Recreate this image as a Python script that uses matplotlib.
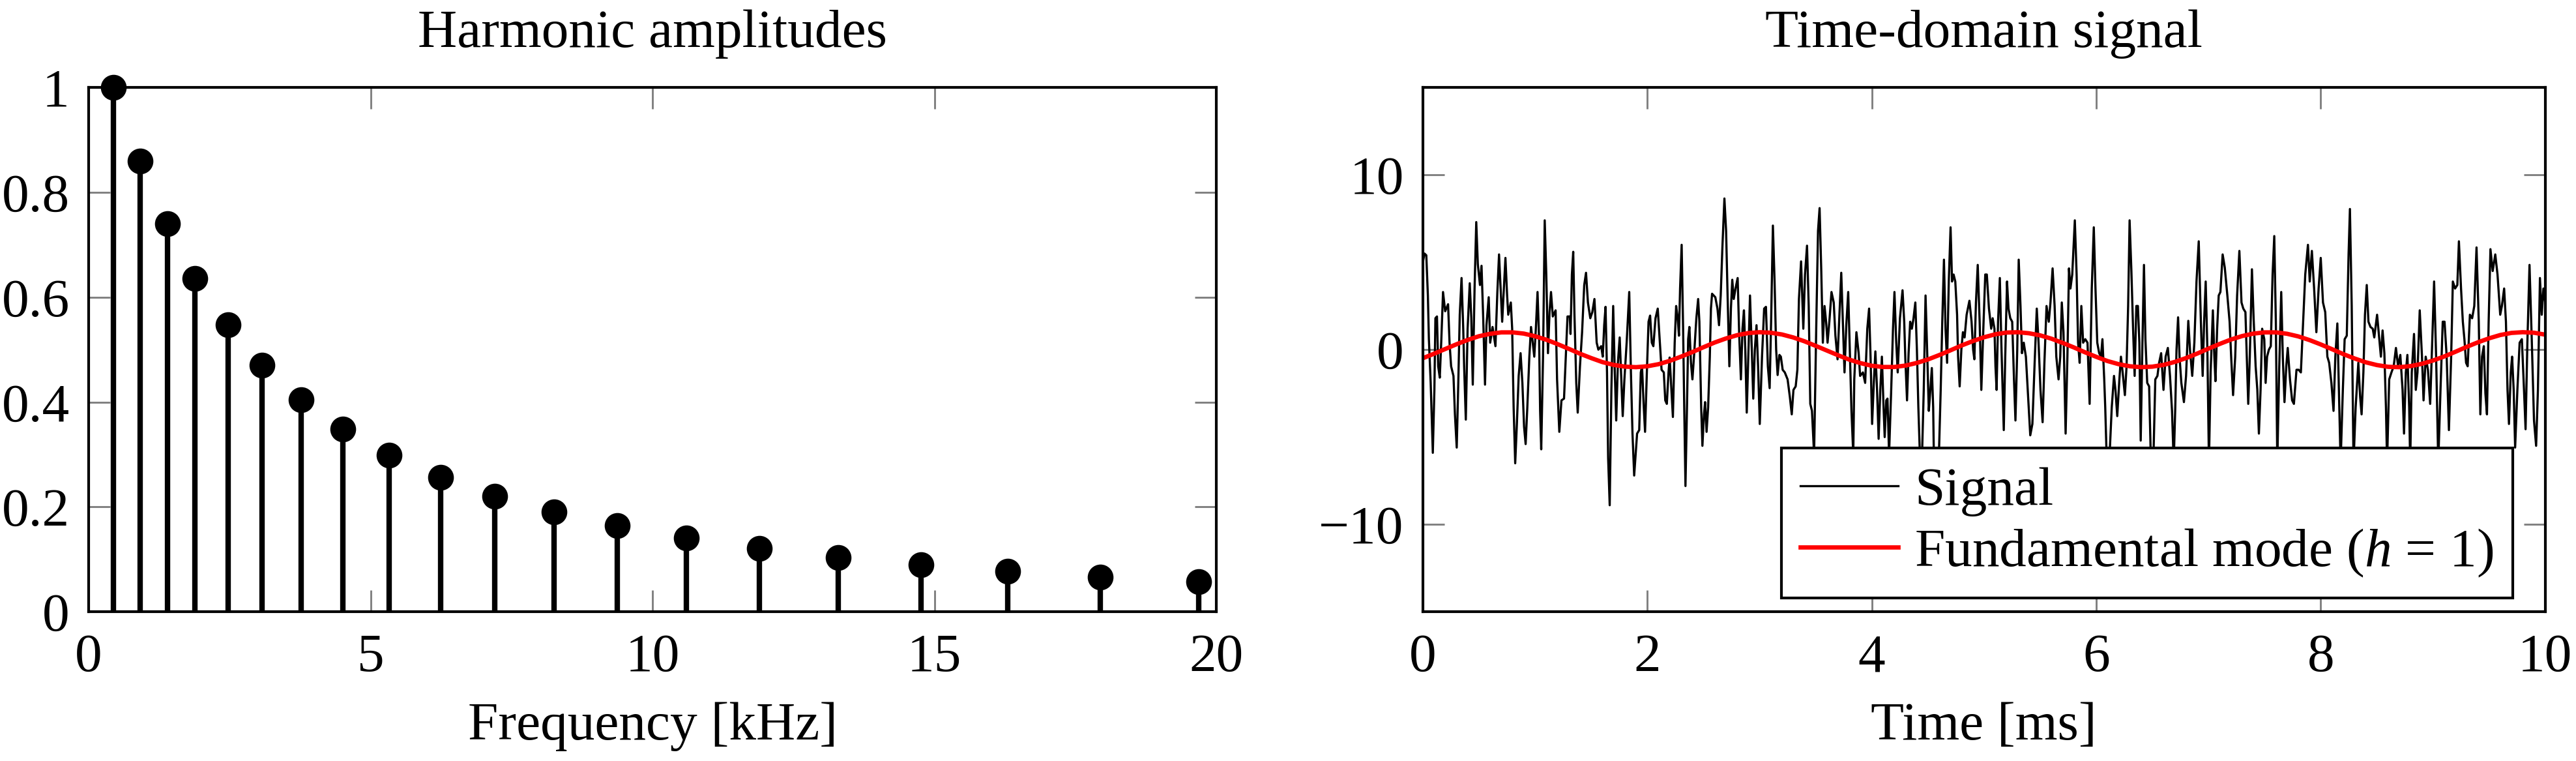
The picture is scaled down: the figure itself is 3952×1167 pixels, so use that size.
import numpy as np
import matplotlib.pyplot as plt

# --- data ---
# harmonic amplitudes (left panel)
freq_khz = [0.44, 0.91, 1.40, 1.89, 2.47, 3.08, 3.77, 4.51, 5.33, 6.24,
            7.20, 8.25, 9.38, 10.60, 11.89, 13.29, 14.76, 16.30, 17.94, 19.68]
amplitude = [1.00, 0.86, 0.74, 0.636, 0.547, 0.470, 0.405, 0.348, 0.299, 0.257,
             0.221, 0.190, 0.164, 0.141, 0.121, 0.104, 0.090, 0.077, 0.066, 0.057]

# noisy signal (right panel), (time ms, value)
signal_points = [
    (0.000, 5.0), (0.015, 5.5), (0.031, 5.4), (0.045, 3.1), (0.054, 0.6), (0.070, -1.9),
    (0.089, -5.9), (0.103, -2.3), (0.112, 1.8), (0.126, 1.9), (0.137, -0.95), (0.151, -1.6),
    (0.165, 0.6), (0.180, 3.3), (0.199, 2.2), (0.225, 2.6), (0.238, 0.4), (0.252, -0.95),
    (0.273, -1.5), (0.286, -3.7), (0.302, -5.6), (0.316, -1.9), (0.329, 2.0), (0.345, 4.1),
    (0.360, 1.2), (0.368, -0.95), (0.383, -4.0), (0.399, 1.2), (0.418, 3.8), (0.432, 1.8),
    (0.445, -2.0), (0.461, 3.5), (0.476, 7.3), (0.490, 4.9), (0.509, 3.7), (0.523, 4.8),
    (0.538, 1.8), (0.554, -2.0), (0.567, 1.4), (0.587, 3.0), (0.600, 0.4), (0.621, 1.3),
    (0.647, 0.2), (0.664, 3.3), (0.679, 5.45), (0.693, 3.5), (0.707, 1.6), (0.722, 3.5),
    (0.736, 5.25), (0.751, 3.1), (0.761, 2.0), (0.784, 2.7), (0.796, 1.2), (0.809, -3.3),
    (0.823, -6.5), (0.838, -4.25), (0.854, -1.5), (0.871, -0.2), (0.887, -1.9), (0.902, -4.4),
    (0.916, -5.4), (0.931, -3.3), (0.949, -0.4), (0.964, 1.3), (0.979, 0.4), (0.993, -0.4),
    (1.007, 1.2), (1.022, 3.3), (1.036, 0.6), (1.045, -3.5), (1.055, -5.7), (1.071, -0.4),
    (1.086, 7.4), (1.100, 4.3), (1.115, -0.2), (1.129, 2.15), (1.142, 3.3), (1.158, 1.9),
    (1.183, 2.25), (1.196, -1.7), (1.216, -4.7), (1.235, -2.9), (1.258, -2.8), (1.274, -0.4),
    (1.289, 1.9), (1.309, 1.9), (1.316, 0.9), (1.328, 4.3), (1.340, 5.6), (1.351, 2.0),
    (1.367, -1.9), (1.380, -3.6), (1.400, -0.95), (1.419, 1.0), (1.438, 3.7), (1.454, 4.4),
    (1.471, 2.7), (1.492, 1.8), (1.510, 2.15), (1.529, 2.9), (1.549, 0.4), (1.564, 0.0),
    (1.589, 0.2), (1.603, -0.4), (1.616, 1.4), (1.628, 2.45), (1.641, -1.3), (1.651, -6.2),
    (1.665, -8.9), (1.680, -2.3), (1.696, 2.5), (1.709, -0.95), (1.723, -4.05), (1.738, -0.75),
    (1.754, 0.7), (1.767, -1.5), (1.781, -3.8), (1.796, -1.7), (1.816, 0.4), (1.839, 3.3),
    (1.854, -1.3), (1.868, -4.8), (1.883, -7.2), (1.909, -4.8), (1.928, -4.6), (1.942, -1.3),
    (1.953, -0.95), (1.967, -3.1), (1.980, -4.7), (1.996, -1.3), (2.011, 1.6), (2.025, 1.95),
    (2.040, 0.4), (2.054, 0.2), (2.073, 1.8), (2.093, 2.35), (2.112, 0.4), (2.127, -1.15),
    (2.147, -1.3), (2.160, -2.9), (2.174, -3.1), (2.189, -1.3), (2.199, -0.45), (2.215, -2.3),
    (2.228, -3.85), (2.244, 0.4), (2.257, 2.5), (2.271, 1.8), (2.282, 0.8), (2.292, 3.5),
    (2.306, 6.0), (2.319, 1.2), (2.329, -3.3), (2.340, -7.8), (2.354, -3.1), (2.364, 0.6),
    (2.375, 1.3), (2.389, -0.75), (2.402, -1.7), (2.418, -0.2), (2.437, 1.8), (2.453, 2.9),
    (2.464, 1.6), (2.480, -3.3), (2.491, -5.5), (2.505, -3.7), (2.515, -3.0), (2.528, -4.7),
    (2.542, -3.3), (2.557, -0.4), (2.567, 2.35), (2.577, 3.2), (2.606, 3.0), (2.625, 2.35),
    (2.639, 1.4), (2.654, 3.1), (2.669, 5.85), (2.687, 8.65), (2.702, 6.8), (2.716, 2.9),
    (2.731, -0.95), (2.745, 2.35), (2.757, 4.0), (2.770, 2.9), (2.786, 3.5), (2.805, 4.1),
    (2.819, 0.8), (2.834, -1.7), (2.848, 1.2), (2.861, 2.25), (2.873, 0.0), (2.886, -3.6),
    (2.900, -0.4), (2.915, 3.1), (2.931, 0.0), (2.944, -2.8), (2.958, 0.0), (2.973, 1.4),
    (2.987, -0.95), (3.002, -4.25), (3.022, -0.4), (3.041, 2.35), (3.057, 2.45), (3.074, -0.95),
    (3.090, -2.2), (3.103, 1.6), (3.119, 7.1), (3.134, 3.9), (3.148, 0.0), (3.161, -1.45),
    (3.177, -0.3), (3.190, -0.4), (3.206, -1.15), (3.225, -1.3), (3.250, -1.7), (3.270, -2.7),
    (3.287, -3.7), (3.302, -2.3), (3.322, -2.1), (3.337, -1.15), (3.351, 2.9), (3.370, 5.05),
    (3.390, 1.2), (3.405, 4.3), (3.423, 5.95), (3.438, 2.5), (3.452, -3.1), (3.467, -3.5),
    (3.486, -6.0), (3.506, 1.6), (3.521, 6.8), (3.535, 8.1), (3.550, 4.5), (3.564, 0.4),
    (3.579, 2.5), (3.593, 1.6), (3.606, 0.4), (3.622, 1.6), (3.641, 3.3), (3.661, 2.7),
    (3.676, 0.8), (3.695, -0.55), (3.709, 1.6), (3.728, 4.4), (3.744, 1.2), (3.757, -1.3),
    (3.773, 1.4), (3.790, 3.3), (3.806, -0.4), (3.819, -3.5), (3.835, -6.0), (3.844, -1.7),
    (3.863, 1.0), (3.883, -0.2), (3.896, -1.5), (3.921, -1.3), (3.941, -1.9), (3.960, 1.2),
    (3.976, 2.35), (3.989, -0.4), (4.003, -4.25), (4.018, -1.9), (4.032, -0.1), (4.047, -2.3),
    (4.061, -5.1), (4.076, -2.3), (4.090, -0.4), (4.105, -3.3), (4.115, -5.0), (4.129, -2.9),
    (4.140, -2.8), (4.154, -6.0), (4.173, -2.3), (4.189, 1.2), (4.202, 3.3), (4.218, 0.4),
    (4.231, -1.3), (4.251, 1.8), (4.274, 3.4), (4.289, 1.6), (4.299, -0.55), (4.314, -2.9),
    (4.328, -0.2), (4.342, 1.6), (4.357, 1.2), (4.372, 1.8), (4.388, 2.7), (4.402, 0.0),
    (4.415, -3.3), (4.431, -6.5), (4.448, -6.0), (4.463, -2.3), (4.479, 3.1), (4.493, 0.0),
    (4.508, -3.5), (4.522, -2.3), (4.535, -1.05), (4.547, -3.3), (4.554, -6.5), (4.574, -6.5),
    (4.599, -5.8), (4.614, -2.3), (4.628, 1.6), (4.643, 5.15), (4.657, 1.2), (4.671, -0.75),
    (4.686, 3.9), (4.702, 7.0), (4.715, 3.9), (4.729, 4.3), (4.744, 3.9), (4.760, 2.0),
    (4.769, -0.4), (4.783, -2.1), (4.798, 0.0), (4.812, 1.0), (4.827, 0.7), (4.845, 2.0),
    (4.870, 2.8), (4.889, 1.6), (4.903, 0.0), (4.914, -0.55), (4.928, 2.7), (4.944, 4.85),
    (4.961, 1.6), (4.976, -2.3), (4.996, 1.6), (5.011, 4.3), (5.025, 4.3), (5.044, 2.35),
    (5.064, 1.2), (5.077, 1.8), (5.093, 1.2), (5.102, -0.95), (5.112, -2.3), (5.125, 1.6),
    (5.141, 4.1), (5.155, 0.2), (5.176, -4.6), (5.189, -0.4), (5.205, 3.9), (5.218, 2.35),
    (5.234, 1.8), (5.251, 1.6), (5.267, -1.7), (5.280, -4.05), (5.296, 0.0), (5.309, 5.15),
    (5.325, 2.5), (5.338, -0.2), (5.354, 0.4), (5.373, -0.4), (5.393, -2.7), (5.412, -4.9),
    (5.431, -4.25), (5.451, -0.75), (5.470, 2.35), (5.486, 0.4), (5.503, -2.3), (5.522, -4.15),
    (5.538, -0.75), (5.557, 2.5), (5.577, 1.6), (5.592, 2.7), (5.611, 4.65), (5.629, 2.5),
    (5.644, -0.4), (5.664, -1.7), (5.679, -0.4), (5.693, 2.7), (5.708, 1.0), (5.727, -4.8),
    (5.743, -0.4), (5.757, 4.65), (5.770, 3.5), (5.786, 4.3), (5.809, 7.4), (5.825, 4.3),
    (5.838, 0.4), (5.852, -0.75), (5.867, 2.5), (5.883, 0.4), (5.902, 0.6), (5.922, 0.4),
    (5.941, -3.1), (5.960, 3.5), (5.978, 7.0), (5.993, 3.5), (6.009, 0.4), (6.026, -0.2),
    (6.042, -0.4), (6.055, 0.6), (6.071, -1.7), (6.080, -3.3), (6.094, -6.5), (6.119, -6.0),
    (6.138, -3.3), (6.158, -1.5), (6.171, -2.3), (6.187, -3.8), (6.206, -1.7), (6.220, -0.4),
    (6.235, -1.3), (6.255, -2.6), (6.270, -0.95), (6.284, 2.5), (6.297, 7.4), (6.313, 4.5),
    (6.328, 1.2), (6.342, -1.5), (6.357, 2.5), (6.371, 2.5), (6.384, 0.4), (6.396, -5.2),
    (6.409, -0.4), (6.425, 4.85), (6.438, 0.6), (6.454, -1.9), (6.471, -2.1), (6.487, -6.5),
    (6.510, -6.0), (6.526, -1.7), (6.545, -1.5), (6.560, -0.75), (6.578, -0.2), (6.599, -2.3),
    (6.618, -0.4), (6.638, 0.1), (6.657, -1.5), (6.675, -3.5), (6.690, -6.5), (6.704, -3.3),
    (6.715, 0.0), (6.729, 1.85), (6.742, -0.4), (6.758, -1.9), (6.781, -3.0), (6.800, -1.5),
    (6.820, 1.65), (6.835, 0.0), (6.855, -1.5), (6.874, 0.4), (6.893, 3.9), (6.913, 6.2),
    (6.932, 1.6), (6.948, -1.5), (6.961, 1.6), (6.975, 3.9), (6.990, 0.0), (7.004, -6.5),
    (7.019, -1.3), (7.039, 2.25), (7.052, -0.4), (7.062, -1.8), (7.077, 1.2), (7.091, 3.1),
    (7.106, 3.3), (7.126, 5.45), (7.145, 4.7), (7.168, 3.1), (7.188, 1.6), (7.203, -0.55),
    (7.219, -2.6), (7.238, -0.4), (7.255, 3.1), (7.275, 5.65), (7.294, 2.7), (7.310, 2.35),
    (7.329, 2.15), (7.339, 0.0), (7.354, -3.1), (7.368, -0.4), (7.387, 4.6), (7.402, 1.8),
    (7.420, -0.95), (7.435, -2.3), (7.449, -4.8), (7.464, -2.3), (7.478, 1.2), (7.497, 0.6),
    (7.509, -1.9), (7.522, -0.4), (7.538, 0.0), (7.555, 0.2), (7.571, 4.3), (7.586, 6.5),
    (7.600, 1.6), (7.613, -6.5), (7.629, -1.3), (7.648, 3.3), (7.662, -0.4), (7.677, -3.0),
    (7.693, -0.95), (7.706, 0.1), (7.726, -1.7), (7.745, -2.9), (7.761, -3.1), (7.784, -1.15),
    (7.803, -1.15), (7.823, -1.3), (7.843, 1.6), (7.862, 4.3), (7.886, 6.0), (7.902, 3.9),
    (7.921, 5.65), (7.941, 3.5), (7.961, 1.0), (7.981, 3.5), (8.000, 5.25), (8.020, 2.7),
    (8.040, 2.15), (8.059, -0.4), (8.075, -0.75), (8.095, -1.9), (8.114, -3.5), (8.130, -0.4),
    (8.148, 1.5), (8.162, -2.3), (8.177, -6.5), (8.197, -2.3), (8.213, 0.6), (8.232, 0.8),
    (8.248, 5.45), (8.260, 8.05), (8.276, 2.5), (8.292, -6.5), (8.311, -3.3), (8.335, -0.75),
    (8.351, -2.7), (8.364, -3.7), (8.380, -1.3), (8.394, 2.0), (8.410, 3.7), (8.425, 1.6),
    (8.443, 1.3), (8.463, 1.2), (8.477, 0.7), (8.502, 2.0), (8.522, 0.6), (8.536, -0.4),
    (8.551, 1.1), (8.567, -0.2), (8.581, -3.3), (8.591, -6.5), (8.610, -1.7), (8.630, -1.3),
    (8.650, -0.95), (8.670, 0.1), (8.689, -0.95), (8.709, -0.3), (8.729, -2.3), (8.742, -4.8),
    (8.758, -1.3), (8.772, -0.3), (8.788, -3.3), (8.797, -6.5), (8.811, -1.3), (8.831, 0.9),
    (8.847, -2.3), (8.862, -1.3), (8.882, 2.25), (8.902, -0.4), (8.916, -2.9), (8.935, -0.4),
    (8.955, -1.15), (8.975, -3.1), (8.994, 0.6), (9.010, 3.9), (9.028, -0.4), (9.047, -6.5),
    (9.067, -2.3), (9.087, 1.6), (9.103, 1.6), (9.122, -0.4), (9.142, -4.6), (9.162, -0.4),
    (9.177, 3.9), (9.197, 3.5), (9.217, 3.7), (9.231, 6.2), (9.250, 3.5), (9.266, 1.6),
    (9.280, 0.6), (9.295, -0.75), (9.309, -0.95), (9.329, 2.0), (9.349, 1.8), (9.368, 2.5),
    (9.388, 5.85), (9.408, 1.6), (9.422, -3.7), (9.437, -0.4), (9.453, 0.2), (9.467, -2.5),
    (9.481, -3.7), (9.496, 1.6), (9.512, 5.75), (9.532, 4.5), (9.555, 5.45), (9.575, 4.3),
    (9.599, 2.0), (9.614, 2.5), (9.634, 3.5), (9.650, 1.6), (9.664, -2.3), (9.677, -4.25),
    (9.693, -1.3), (9.705, -0.4), (9.719, -2.3), (9.732, -5.6), (9.752, -2.3), (9.772, 0.4),
    (9.792, 0.6), (9.811, -2.3), (9.825, -4.55), (9.841, 0.4), (9.860, 4.85), (9.880, 0.6),
    (9.900, -4.05), (9.919, -5.5), (9.935, -2.3), (9.953, 4.1), (9.969, 2.0), (9.984, 3.5),
    (10.000, 2.7),
]

# fundamental mode (h = 1), sampled every 0.1 ms
fund_t = [i / 10 for i in range(101)]
fund_v = [-0.49, -0.23, 0.04, 0.31, 0.56, 0.77, 0.91, 0.99, 0.99, 0.92,
          0.77, 0.57, 0.32, 0.05, -0.23, -0.48, -0.71, -0.87, -0.97, -1.00,
          -0.95, -0.83, -0.64, -0.40, -0.14, 0.14, 0.41, 0.64, 0.83, 0.95,
          1.00, 0.97, 0.87, 0.70, 0.48, 0.22, -0.05, -0.32, -0.57, -0.77,
          -0.92, -0.99, -0.99, -0.91, -0.76, -0.56, -0.31, -0.04, 0.24, 0.49,
          0.71, 0.88, 0.98, 1.00, 0.94, 0.82, 0.63, 0.39, 0.13, -0.15,
          -0.41, -0.65, -0.83, -0.95, -1.00, -0.97, -0.87, -0.70, -0.48, -0.22,
          0.06, 0.33, 0.58, 0.78, 0.92, 0.99, 0.99, 0.91, 0.76, 0.55,
          0.30, 0.03, -0.25, -0.50, -0.72, -0.88, -0.98, -1.00, -0.94, -0.81,
          -0.62, -0.39, -0.12, 0.16, 0.42, 0.65, 0.84, 0.96, 1.00, 0.97, 0.86]

# --- style ---
FS = 20
plt.rcParams['font.family'] = ['Liberation Serif', 'DejaVu Serif']
plt.rcParams['mathtext.fontset'] = 'custom'
plt.rcParams['mathtext.rm'] = 'Liberation Serif'
plt.rcParams['mathtext.it'] = 'Liberation Serif:italic'
plt.rcParams['font.size'] = FS
plt.rcParams['axes.linewidth'] = 1.0


def style_axes(ax):
    ax.tick_params(direction='in', top=True, right=True, color='#808080',
                   length=8, width=0.7, labelsize=FS, pad=7)
    ax.tick_params(axis='x', pad=8)
    for s in ax.spines.values():
        s.set_color('black')


fig = plt.figure(figsize=(3953 / 300, 1167 / 300), dpi=300)
ax1 = fig.add_axes([0.0344, 0.196, 0.4377, 0.689])
ax2 = fig.add_axes([0.5522, 0.196, 0.4356, 0.689])

# left: stem plot of harmonics
markerline, stemlines, baseline = ax1.stem(freq_khz, amplitude, linefmt='k-',
                                           markerfmt='ko', basefmt=' ')
stemlines.set_linewidth(2.0)
markerline.set_markersize(8.5)
markerline.set_clip_on(False)
ax1.set_xlim(0, 20)
ax1.set_ylim(0, 1)
ax1.set_xticks([0, 5, 10, 15, 20])
ax1.set_yticks([0, 0.2, 0.4, 0.6, 0.8, 1])
ax1.set_yticklabels(['0', '0.2', '0.4', '0.6', '0.8', '1'])
ax1.set_title('Harmonic amplitudes', fontsize=FS, pad=15)
ax1.set_xlabel('Frequency [kHz]', fontsize=FS, labelpad=7)
style_axes(ax1)

# right: time-domain signal
sig = np.array(signal_points)
ax2.plot(sig[:, 0], sig[:, 1], color='black', linewidth=0.8, label='Signal')
ax2.plot(fund_t, fund_v, color='red', linewidth=1.6,
         label=r'Fundamental mode ($h$ = 1)')
ax2.set_xlim(0, 10)
ax2.set_ylim(-15, 15)
ax2.set_xticks([0, 2, 4, 6, 8, 10])
ax2.set_yticks([-10, 0, 10])
ax2.set_title('Time-domain signal', fontsize=FS, pad=15)
ax2.set_xlabel('Time [ms]', fontsize=FS, labelpad=7)
style_axes(ax2)

leg = ax2.legend(loc='lower right', bbox_to_anchor=(0.971, 0.026), borderaxespad=0,
                 fancybox=False, framealpha=1, edgecolor='black', fontsize=FS,
                 handlelength=1.8, handletextpad=0.3, labelspacing=0.2, borderpad=0.35)
leg.get_frame().set_linewidth(1.0)

fig.savefig('out.png', dpi=300)
